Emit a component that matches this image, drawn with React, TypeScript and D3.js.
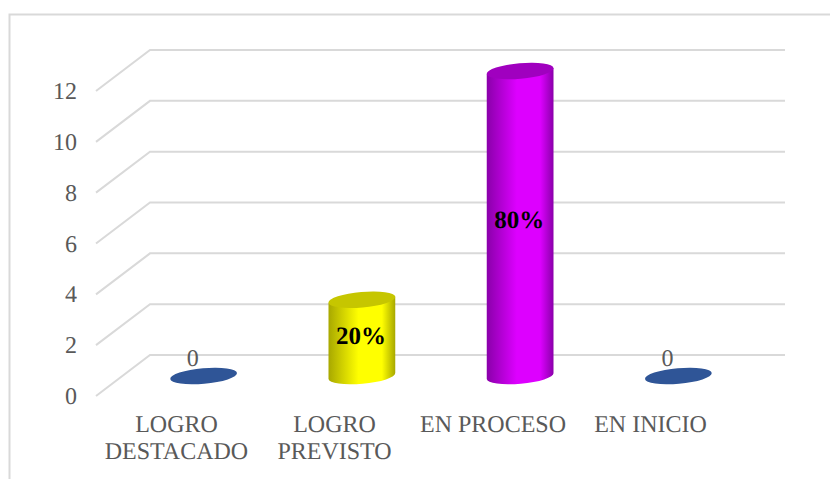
import React from "react";
import * as d3 from "d3";

const categories = ["LOGRO DESTACADO", "LOGRO PREVISTO", "EN PROCESO", "EN INICIO"];
const categoryLines = [["LOGRO", "DESTACADO"], ["LOGRO", "PREVISTO"], ["EN PROCESO"], ["EN INICIO"]];
const values = [0, 3, 12, 0];
const dataLabels = ["0", "20%", "80%", "0"];
const yTicks = [0, 2, 4, 6, 8, 10, 12];
const palettes = [
  { edge: "#2f5597", mid: "#2f5597", top: "#2f5597" },
  { edge: "#a8a800", mid: "#ffff00", top: "#c6c600" },
  { edge: "#8a00aa", mid: "#dd00ff", top: "#a000bf" },
  { edge: "#2f5597", mid: "#2f5597", top: "#2f5597" },
];

const W = 830, H = 479;
const FONT = "'Liberation Serif', serif";
const TXT = "#595959", GRID = "#d9d9d9";

const yFront = d3.scaleLinear().domain([0, 12]).range([396, 91]);
const yBack = d3.scaleLinear().domain([0, 12]).range([355, 50]);
const yMid = d3.scaleLinear().domain([0, 12]).range([376, 71]);
const x = d3.scaleBand<string>().domain(categories).range([124.5, 757.5]);

const RX = 33.5, RY = 7.8, TILT = -5;
const dx = RX * Math.cos((TILT * Math.PI) / 180);
const dy = RX * Math.sin((TILT * Math.PI) / 180);

export default function App() {
  return (
    <svg width={W} height={H} style={{ position: "absolute", left: 0, top: 0, background: "#fff", textRendering: "geometricPrecision" }}>
      <defs>
        {palettes.map((p, i) => (
          <linearGradient key={i} id={`g${i}`} x1="0" x2="1" y1="0" y2="0">
            <stop offset="0" stopColor={p.edge} />
            <stop offset="0.45" stopColor={p.mid} />
            <stop offset="0.8" stopColor={p.mid} />
            <stop offset="1" stopColor={p.edge} />
          </linearGradient>
        ))}
      </defs>
      <path d={`M9.5 ${H}V14.5H${W}`} fill="none" stroke={GRID} strokeWidth={2} />
      {yTicks.map((t) => (
        <g key={t}>
          <path
            d={`M96 ${yFront(t)}L150 ${yBack(t)}H785`}
            fill="none"
            stroke={GRID}
            strokeWidth={2}
          />
          <text x={77} y={yFront(t) + 8} textAnchor="end" fontFamily={FONT} fontSize={24} fill={TXT}>
            {t}
          </text>
        </g>
      ))}
      {categories.map((c, i) => {
        const cx = x(c)! + x.bandwidth() / 2;
        const v = values[i];
        const y0 = yMid(0);
        const y1 = yMid(v);
        const p = palettes[i];
        const rot = `rotate(${TILT} ${cx} `;
        return (
          <g key={c}>
            {v > 0 ? (
              <>
                <path
                  d={`M${cx - dx} ${y1 - dy}L${cx - dx} ${y0 - dy}A${RX} ${RY} ${TILT} 0 0 ${cx + dx} ${y0 + dy}L${cx + dx} ${y1 + dy}Z`}
                  fill={`url(#g${i})`}
                />
                <ellipse cx={cx} cy={y1} rx={RX} ry={RY} fill={p.top} transform={`${rot}${y1})`} />
                <text x={cx - 1} y={i === 1 ? y1 + 44 : yMid(6) + 4.5} textAnchor="middle" fontFamily={FONT} fontSize={25} fontWeight="bold" fill="#000">
                  {dataLabels[i]}
                </text>
              </>
            ) : (
              <>
                <ellipse cx={cx} cy={y0} rx={RX} ry={RY} fill={p.top} transform={`${rot}${y0})`} />
                <text x={cx - 11} y={y0 - 10} textAnchor="middle" fontFamily={FONT} fontSize={24} fill={TXT}>
                  {dataLabels[i]}
                </text>
              </>
            )}
            {categoryLines[i].map((line, j) => (
              <text key={j} x={[176.5, 334.5, 493, 650.5][i]} y={432 + j * 27} textAnchor="middle" fontFamily={FONT} fontSize={24} fill={TXT}>
                {line}
              </text>
            ))}
          </g>
        );
      })}
    </svg>
  );
}
